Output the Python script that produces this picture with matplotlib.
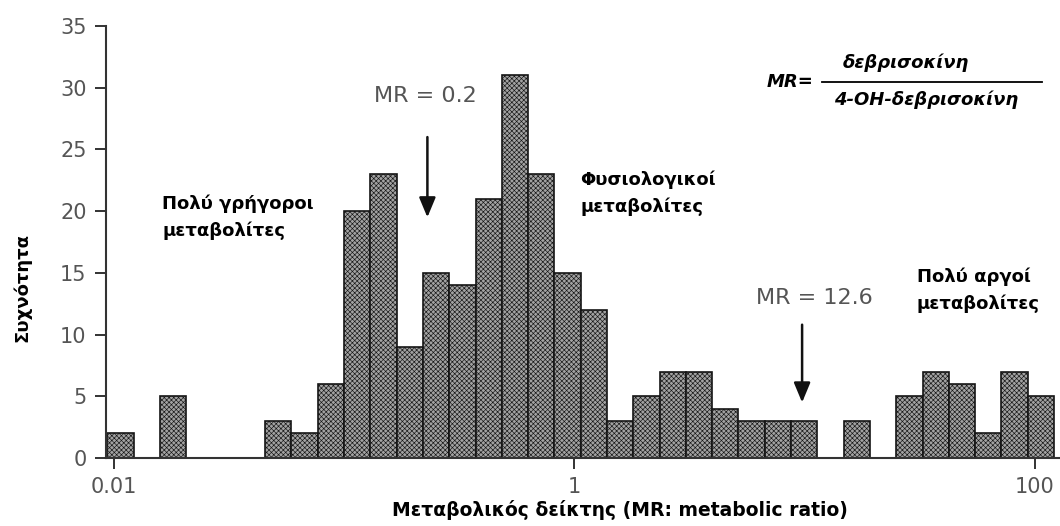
import numpy as np
import matplotlib
matplotlib.use("Agg")
import matplotlib.pyplot as plt
from matplotlib.lines import Line2D

# ---- data ----
counts = [2, 0, 5, 0, 0, 0, 3, 2, 6, 20, 23, 9, 15, 14, 21, 31, 23, 15, 12,
          3, 5, 7, 7, 4, 3, 3, 3, 0, 3, 0, 5, 7, 6, 2, 7, 5]
bin_start_log10 = -2.028      # left edge of first bin (log10 MR)
bin_width_log10 = 0.1142      # log-uniform bin width
xtick_values = [0.01, 1, 100]
xtick_labels = ["0.01", "1", "100"]
ytick_values = [0, 5, 10, 15, 20, 25, 30, 35]
arrow_mr_low = 0.23
arrow_mr_high = 9.75

edges = 10 ** (bin_start_log10 + bin_width_log10 * np.arange(len(counts) + 1))

plt.rcParams['hatch.color'] = '#5a5a5a'
plt.rcParams['hatch.linewidth'] = 0.45

W, H = 1060, 526
fig = plt.figure(figsize=(W / 100, H / 100), dpi=100)
ax = fig.add_axes([106 / W, (H - 458) / H, (W - 106) / W, (458 - 26) / H])

lefts = edges[:-1]
widths = np.diff(edges)
mask = np.array(counts) > 0
ax.bar(lefts[mask], np.array(counts)[mask], width=widths[mask], align='edge',
       facecolor='#a2a2a2', edgecolor='#151515', linewidth=1.2, hatch='xxxxxxx',
       zorder=2)

ax.set_xscale('log')
ax.set_xlim(10 ** -2.034, 10 ** 2.109)
ax.set_ylim(0, 35)
ax.set_xticks(xtick_values)
ax.set_xticklabels(xtick_labels)
ax.xaxis.set_minor_locator(matplotlib.ticker.NullLocator())
ax.set_yticks(ytick_values)

for s in ['top', 'right']:
    ax.spines[s].set_visible(False)
for s in ['left', 'bottom']:
    ax.spines[s].set_color('#333333')
    ax.spines[s].set_linewidth(1.5)

ax.tick_params(axis='both', colors='#333333', width=1.4, length=8,
               labelcolor='#555555', labelsize=15, pad=6)
for lab in ax.get_xticklabels() + ax.get_yticklabels():
    lab.set_family('DejaVu Sans')

bold = dict(fontweight='bold', family='DejaVu Sans', color='black')

fig.text(22 / W, 1 - 288 / H, "Συχνότητα", rotation=90, ha='center',
         va='center', fontsize=13, **bold)
fig.text(620 / W, 1 - 510 / H, "Μεταβολικός δείκτης (MR: metabolic ratio)",
         ha='center', va='center', fontsize=13.5, **bold)

fig.text(162 / W, 1 - 217 / H, "Πολύ γρήγοροι\nμεταβολίτες", ha='left',
         va='center', fontsize=13, linespacing=1.6, **bold)
fig.text(580 / W, 1 - 193 / H, "Φυσιολογικοί\nμεταβολίτες", ha='left',
         va='center', fontsize=13, linespacing=1.6, **bold)
fig.text(917 / W, 1 - 290 / H, "Πολύ αργοί\nμεταβολίτες", ha='left',
         va='center', fontsize=13, linespacing=1.6, **bold)

# MR annotations with arrows
ax.annotate("", xy=(arrow_mr_low, 19.5), xytext=(arrow_mr_low, 26.0),
            arrowprops=dict(arrowstyle='-|>,head_length=1.2,head_width=0.5',
                            color='#111111', lw=1.8, shrinkA=0, shrinkB=0))
ax.annotate("", xy=(arrow_mr_high, 4.5), xytext=(arrow_mr_high, 10.8),
            arrowprops=dict(arrowstyle='-|>,head_length=1.2,head_width=0.5',
                            color='#111111', lw=1.8, shrinkA=0, shrinkB=0))
fig.text(425 / W, 1 - 96 / H, "MR = 0.2", ha='center', va='center',
         fontsize=16, color='#555555', family='DejaVu Sans')
fig.text(814 / W, 1 - 298 / H, "MR = 12.6", ha='center', va='center',
         fontsize=16, color='#555555', family='DejaVu Sans')

# formula
bi = dict(fontweight='bold', fontstyle='italic', family='DejaVu Sans',
          color='black')
fig.text(790 / W, 1 - 82 / H, "MR=", ha='center', va='center', fontsize=13, **bi)
fig.text(906 / W, 1 - 63 / H, "δεβρισοκίνη", ha='center', va='center',
         fontsize=13, **bi)
fig.text(926 / W, 1 - 100 / H, "4-OH-δεβρισοκίνη", ha='center', va='center',
         fontsize=13, **bi)
fig.add_artist(Line2D([822 / W, 1042 / W], [1 - 82 / H, 1 - 82 / H],
                      transform=fig.transFigure, color='black', lw=1.3))

fig.savefig("out.png", dpi=100)
